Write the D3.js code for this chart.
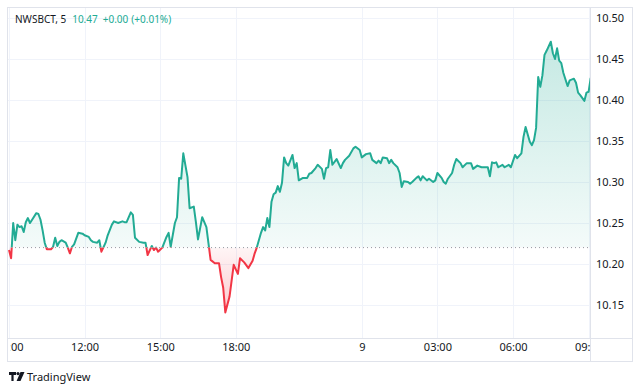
<!DOCTYPE html>
<html><head><meta charset="utf-8">
<script src="https://cdn.jsdelivr.net/npm/d3@7"></script>
<style>
body{margin:0;background:#fff}
svg{display:block}
</style></head>
<body><svg id="c" width="640" height="391"></svg>
<script>
const symbol = "NWSBCT, 5";
const lastPrice = "10.47";
const changeAbs = "+0.00";
const changePct = "(+0.01%)";
const baseValue = 10.22;

const bars = [0,1,2,3,4,5,6,7,8,9,10,11,13,14,15,16,17,18,20,21,22,23,24,25,27,28,29,30,31,33,35,36,38,39,40,42,43,44,46,47,49,50,52,54,55,56,58,59,60,62,64,65,66,68,69,70,71,73,75,76,77,79,80,81,82,83,85,86,88,89,90,92,93,94,96,98,100,101,102,103,105,107,109,110,112,114,116,117,118,120,121,122,123,124,125,126,127,128,129,130,131,132,133,135,136,137,138,140,142,143,144,146,147,149,150,151,152,153,154,156,158,159,160,162,164,165,167,168,170,172,173,175,176,177,178,180,181,182,183,185,186,187,188,190,191,192,194,195,196,197,199,200,202,203,204,206,207,208,209,211,212,213,215,216,218,220,221,223,225,226,228,229,230,231,232,233,235,236,238,239,241,242,244,245,246,248,249,250,251,252,253,254,255,256,258,259,260,261,262,263,264,266,267,269,270,271,272,274,275,276,277];
const prices = [10.217,10.207,10.250,10.229,10.248,10.245,10.246,10.239,10.251,10.256,10.250,10.254,10.262,10.261,10.254,10.241,10.226,10.218,10.218,10.221,10.232,10.222,10.227,10.229,10.226,10.220,10.213,10.221,10.224,10.238,10.237,10.235,10.233,10.229,10.227,10.226,10.229,10.215,10.226,10.235,10.248,10.252,10.250,10.252,10.251,10.251,10.263,10.260,10.232,10.227,10.226,10.226,10.211,10.222,10.217,10.220,10.215,10.220,10.233,10.238,10.221,10.250,10.257,10.305,10.304,10.335,10.306,10.268,10.270,10.251,10.230,10.257,10.251,10.245,10.205,10.201,10.201,10.184,10.171,10.141,10.160,10.199,10.188,10.207,10.202,10.195,10.204,10.213,10.220,10.238,10.245,10.241,10.256,10.245,10.276,10.285,10.287,10.295,10.288,10.299,10.330,10.323,10.320,10.333,10.317,10.323,10.302,10.305,10.305,10.310,10.311,10.317,10.321,10.316,10.304,10.317,10.318,10.339,10.321,10.328,10.317,10.323,10.327,10.332,10.341,10.343,10.339,10.330,10.334,10.335,10.327,10.323,10.326,10.323,10.330,10.329,10.323,10.327,10.323,10.318,10.311,10.294,10.301,10.300,10.298,10.300,10.305,10.307,10.302,10.307,10.302,10.304,10.300,10.302,10.311,10.305,10.300,10.298,10.304,10.311,10.321,10.328,10.323,10.318,10.323,10.323,10.316,10.320,10.318,10.318,10.318,10.307,10.324,10.323,10.324,10.318,10.321,10.318,10.321,10.318,10.333,10.329,10.335,10.355,10.367,10.349,10.345,10.351,10.366,10.428,10.416,10.430,10.455,10.460,10.471,10.457,10.450,10.463,10.448,10.445,10.433,10.417,10.424,10.426,10.421,10.409,10.406,10.399,10.409,10.410,10.427];

const priceTicks = [10.15,10.20,10.25,10.30,10.35,10.40,10.45,10.50];
const timeTickBars = [0,36,72,108,168,204,240,276];
const timeTickLabels = ["09:00","12:00","15:00","18:00","9","03:00","06:00","09:00"];

const data = bars.map((b,i)=>({b, v: prices[i]}));

const L=7, T=7, PR=590, PB=338, R=633, B=362;
const AXIS_FONT = '"Noto Sans","Open Sans",sans-serif';
const svg = d3.select("#c");
const defs = svg.append("defs");

const x = d3.scaleLinear().domain([0,276]).range([9, 9+276*2.1]);
const y = d3.scaleLinear().domain([10.15,10.50]).range([305,18]);
const yBase = y(baseValue);

defs.append("clipPath").attr("id","plot").append("rect").attr("x",L).attr("y",T).attr("width",PR-L).attr("height",PB-T);
defs.append("clipPath").attr("id","above").append("rect").attr("x",L).attr("y",T).attr("width",PR-L).attr("height",yBase-T);
defs.append("clipPath").attr("id","below").append("rect").attr("x",L).attr("y",yBase).attr("width",PR-L).attr("height",PB-yBase);
defs.append("clipPath").attr("id","taxis").append("rect").attr("x",10.5).attr("y",PB).attr("width",PR-10.5).attr("height",B-PB);

const gTop = defs.append("linearGradient").attr("id","gTop").attr("gradientUnits","userSpaceOnUse")
  .attr("x1",0).attr("x2",0).attr("y1",y(10.47)).attr("y2",yBase);
gTop.append("stop").attr("offset","0").attr("stop-color","#22ab94").attr("stop-opacity",0.26);
gTop.append("stop").attr("offset","1").attr("stop-color","#22ab94").attr("stop-opacity",0.05);
const gBot = defs.append("linearGradient").attr("id","gBot").attr("gradientUnits","userSpaceOnUse")
  .attr("x1",0).attr("x2",0).attr("y1",yBase).attr("y2",y(10.141));
gBot.append("stop").attr("offset","0").attr("stop-color","#f23645").attr("stop-opacity",0.05);
gBot.append("stop").attr("offset","1").attr("stop-color","#f23645").attr("stop-opacity",0.26);

const grid = svg.append("g").attr("clip-path","url(#plot)");
grid.selectAll("line.h").data(priceTicks).join("line")
  .attr("x1",L).attr("x2",PR).attr("y1",d=>Math.round(y(d))+0.5).attr("y2",d=>Math.round(y(d))+0.5)
  .attr("stroke","#f0f3fa").attr("stroke-width",1);
grid.selectAll("line.v").data(timeTickBars).join("line")
  .attr("y1",T).attr("y2",PB).attr("x1",d=>Math.round(x(d))+0.5).attr("x2",d=>Math.round(x(d))+0.5)
  .attr("stroke","#f0f3fa").attr("stroke-width",1);

const area = d3.area().x(d=>x(d.b)).y0(yBase).y1(d=>y(d.v));
const line = d3.line().x(d=>x(d.b)).y(d=>y(d.v));
const plot = svg.append("g").attr("clip-path","url(#plot)");
const up = plot.append("g").attr("clip-path","url(#above)");
const dn = plot.append("g").attr("clip-path","url(#below)");
up.append("path").datum(data).attr("d",area).attr("fill","url(#gTop)");
dn.append("path").datum(data).attr("d",area).attr("fill","url(#gBot)");
plot.append("line").attr("x1",L).attr("x2",PR).attr("y1",yBase).attr("y2",yBase)
  .attr("stroke","#9598a1").attr("stroke-width",1).attr("stroke-dasharray","1,3");
up.append("path").datum(data).attr("d",line).attr("fill","none").attr("stroke","#22ab94").attr("stroke-width",2).attr("stroke-linejoin","round");
dn.append("path").datum(data).attr("d",line).attr("fill","none").attr("stroke","#f23645").attr("stroke-width",2).attr("stroke-linejoin","round");

svg.append("rect").attr("x",L+0.5).attr("y",T+0.5).attr("width",R-L-1).attr("height",B-T-1)
  .attr("fill","none").attr("stroke","#e0e3eb");
svg.append("line").attr("x1",PR+0.5).attr("x2",PR+0.5).attr("y1",T).attr("y2",B).attr("stroke","#e0e3eb");
svg.append("line").attr("x1",L).attr("x2",R).attr("y1",PB+0.5).attr("y2",PB+0.5).attr("stroke","#e0e3eb");

const ya = svg.append("g").attr("transform",`translate(${PR+6},0)`)
  .call(d3.axisRight(y).tickValues(priceTicks).tickSize(0).tickPadding(0).tickFormat(d3.format(".2f")));
ya.select(".domain").remove();
ya.selectAll("text").attr("fill","#131722").style("font-size","11px").style("font-family",AXIS_FONT);

const xa = svg.append("g").attr("clip-path","url(#taxis)").append("g").attr("transform",`translate(0,${PB+5})`)
  .call(d3.axisBottom(x).tickValues(timeTickBars).tickSize(0).tickPadding(0).tickFormat((d,i)=>timeTickLabels[i]));
xa.select(".domain").remove();
xa.selectAll("text").attr("fill","#131722").style("font-size","11px").style("font-family",AXIS_FONT);

const title = svg.append("text").attr("x",15).attr("y",23)
  .style("font-size","10px").style("font-family",AXIS_FONT);
title.append("tspan").attr("fill","#131722").text(symbol);
title.append("tspan").attr("dx",6).attr("fill","#22ab94").text(lastPrice);
title.append("tspan").attr("dx",5).attr("fill","#22ab94").text(changeAbs);
title.append("tspan").attr("dx",3).attr("fill","#22ab94").text(changePct);

const logo = svg.append("g").attr("transform","translate(9,372)").attr("fill","#131722");
logo.append("path").attr("d","M0 0H7V3H4.6V9H2.4V3H0Z");
logo.append("circle").attr("cx",9).attr("cy",1.6).attr("r",1.6);
logo.append("path").attr("d","M11.5 0H15.5L11.5 9H7.6Z");
svg.append("text").attr("x",27).attr("y",381).attr("fill","#131722")
  .style("font-size","11px").style("font-family",AXIS_FONT).text("TradingView");
</script></body></html>
